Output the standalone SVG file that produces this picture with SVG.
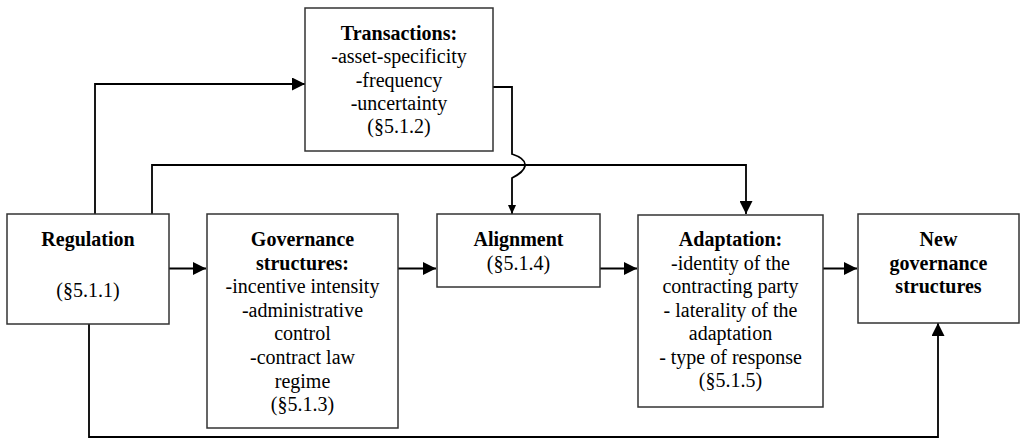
<svg xmlns="http://www.w3.org/2000/svg" width="1021" height="439" viewBox="0 0 1021 439">
<defs>
<style>
.box{fill:#fff;stroke:#333;stroke-width:1.5}
text{fill:#000;text-anchor:middle}
.b{font-weight:bold}
.c{fill:none;stroke:#000;stroke-width:1.8}
</style>
<marker id="ah" markerUnits="userSpaceOnUse" markerWidth="13" markerHeight="13" refX="13" refY="6.5" orient="auto">
<path d="M0,0 L13,6.5 L0,13 z" fill="#000"/>
</marker>
<marker id="ahs" markerUnits="userSpaceOnUse" markerWidth="9" markerHeight="8" refX="9" refY="4" orient="auto">
<path d="M0,0 L9,4 L0,8 z" fill="#000"/>
</marker>
</defs>
<rect width="1021" height="439" fill="#fff"/>
<g id="connectors">
<path class="c" d="M95,214 V84 H305" marker-end="url(#ah)"/>
<path class="c" d="M152,214 V165 H746 V214" marker-end="url(#ah)"/>
<path class="c" d="M493,87 H512 V154 C521,157 526,161 525,166 C524,171 518,175 512,178 V214" marker-end="url(#ahs)"/>
<path class="c" d="M169,268.5 H206" marker-end="url(#ah)"/>
<path class="c" d="M398,268.5 H436" marker-end="url(#ah)"/>
<path class="c" d="M600,268.5 H637" marker-end="url(#ah)"/>
<path class="c" d="M823,268.5 H857" marker-end="url(#ah)"/>
<path class="c" d="M89,324 V437 H938 V323" marker-end="url(#ah)"/>
</g>
<g id="nodes" font-family="Liberation Serif, Times New Roman, serif" font-size="20">
<g id="transactions">
<rect class="box" x="305" y="8" width="188" height="143"/>
<text class="b" x="399" y="40">Transactions:</text>
<text x="399" y="63">-asset-specificity</text>
<text x="399" y="86.5">-frequency</text>
<text x="399" y="110">-uncertainty</text>
<text x="399" y="133">(§5.1.2)</text>
</g>
<g id="regulation">
<rect class="box" x="7" y="214" width="162" height="110"/>
<text class="b" x="88" y="246">Regulation</text>
<text x="88" y="297">(§5.1.1)</text>
</g>
<g id="governance">
<rect class="box" x="207" y="214" width="191" height="214"/>
<text class="b" x="302.5" y="246">Governance</text>
<text class="b" x="302.5" y="269.6">structures:</text>
<text x="302.5" y="293.2">-incentive intensity</text>
<text x="302.5" y="316.8">-administrative</text>
<text x="302.5" y="340.4">control</text>
<text x="302.5" y="364">-contract law</text>
<text x="302.5" y="387.6">regime</text>
<text x="302.5" y="411.2">(§5.1.3)</text>
</g>
<g id="alignment">
<rect class="box" x="437" y="214" width="163" height="73"/>
<text class="b" x="518.5" y="246">Alignment</text>
<text x="518.5" y="269.5">(§5.1.4)</text>
</g>
<g id="adaptation">
<rect class="box" x="638" y="215" width="185" height="192"/>
<text class="b" x="730.5" y="246">Adaptation:</text>
<text x="730.5" y="269.5">-identity of the</text>
<text x="730.5" y="293">contracting party</text>
<text x="730.5" y="316.5">- laterality of the</text>
<text x="730.5" y="340">adaptation</text>
<text x="730.5" y="363.5">- type of response</text>
<text x="730.5" y="387">(§5.1.5)</text>
</g>
<g id="new-governance">
<rect class="box" x="858" y="214" width="161" height="109"/>
<text class="b" x="938.5" y="246">New</text>
<text class="b" x="938.5" y="269.5">governance</text>
<text class="b" x="938.5" y="293">structures</text>
</g>
</g>
</svg>
